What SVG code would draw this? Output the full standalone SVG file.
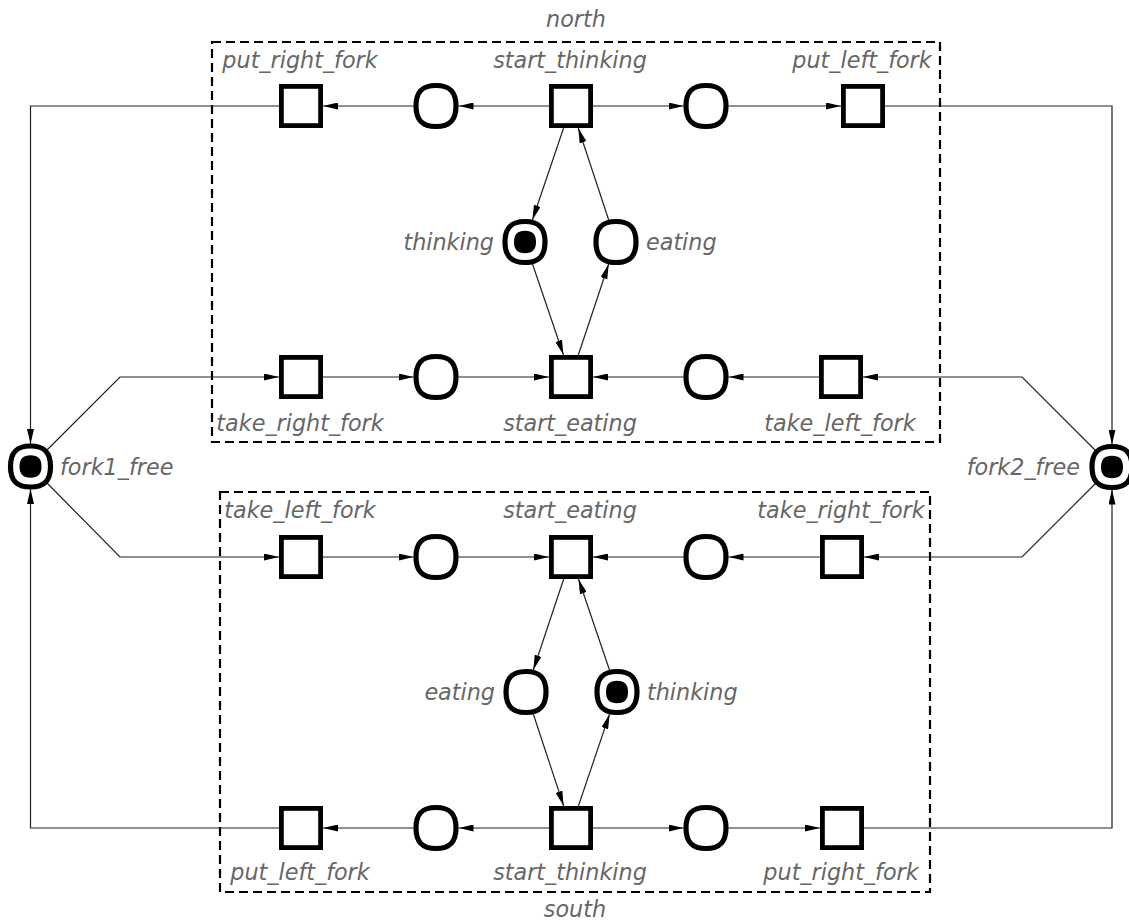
<svg xmlns="http://www.w3.org/2000/svg" width="1129" height="922" viewBox="0 0 1129 922">
  <style>
    .lbl { font-family: "DejaVu Sans", "Liberation Sans", sans-serif; font-style: italic; font-size: 22.3px; fill: #666666; }
    .mid { text-anchor: middle; }
    .end { text-anchor: end; }
    .trans { fill: #ffffff; stroke: #000000; stroke-width: 4.8; }
    .place { fill: #ffffff; stroke: #000000; stroke-width: 5.2; }
    .token { fill: #000000; }
    .arc { fill: none; stroke: #222222; stroke-width: 1.2; }
    .arc.to { marker-end: url(#head); }
    .box { fill: none; stroke: #000000; stroke-width: 2.2; stroke-dasharray: 9 5; }
  </style>
  <defs>
    <marker id="head" viewBox="0 0 15 7" refX="15" refY="3.5" markerWidth="15" markerHeight="7" markerUnits="userSpaceOnUse" orient="auto">
      <path d="M0,0 L15,3.5 L0,7 Z" fill="#000000"/>
    </marker>
    <rect id="t" x="-19.6" y="-19.6" width="39.2" height="39.2" class="trans"/>
    <!-- place outline: slightly squared circle -->
    <path id="p" class="place" d="M-20,0 C-20,-14 -14,-20.5 0,-20.5 C14,-20.5 20,-14 20,0 C20,14 14,20.5 0,20.5 C-14,20.5 -20,14 -20,0 Z"/>
    <path id="k" class="token" d="M-11,0 C-11,-7.5 -7.5,-11.2 0,-11.2 C7.5,-11.2 11,-7.5 11,0 C11,7.5 7.5,11.2 0,11.2 C-7.5,11.2 -11,7.5 -11,0 Z"/>
  </defs>

  <rect width="1129" height="922" fill="#ffffff"/>

  <!-- philosopher groups -->
  <g id="north">
    <rect class="box" x="212" y="42" width="728" height="400"/>
    <text class="lbl mid" x="576" y="27">north</text>
  </g>
  <g id="south">
    <rect class="box" x="220" y="492" width="710" height="400"/>
    <text class="lbl mid" x="575" y="917">south</text>
  </g>

  <!-- arcs -->
  <g id="connectors">
    <!-- north, upper row -->
    <line class="arc to" x1="549" y1="106" x2="458.5" y2="106"/>
    <line class="arc to" x1="413.5" y1="106" x2="323" y2="106"/>
    <line class="arc to" x1="593" y1="106" x2="683.5" y2="106"/>
    <line class="arc to" x1="728.5" y1="106" x2="841" y2="106"/>
    <polyline class="arc to" points="279,106 30.5,106 30.5,444"/>
    <polyline class="arc to" points="885,106 1112,106 1112,444.5"/>
    <!-- north, eating / thinking cycle -->
    <line class="arc to" x1="563.6" y1="128" x2="532.4" y2="220"/>
    <line class="arc to" x1="608.7" y1="220" x2="578.3" y2="128"/>
    <line class="arc to" x1="532.5" y1="264" x2="563.5" y2="355"/>
    <line class="arc to" x1="578.3" y1="355" x2="608.7" y2="264"/>
    <!-- north, lower row -->
    <polyline class="arc to" points="46.5,450.5 120,377 279,377"/>
    <line class="arc to" x1="323" y1="377" x2="413.5" y2="377"/>
    <line class="arc to" x1="458.5" y1="377" x2="549" y2="377"/>
    <polyline class="arc to" points="1096,451 1022,377 863,377"/>
    <line class="arc to" x1="819" y1="377" x2="728.5" y2="377"/>
    <line class="arc to" x1="683.5" y1="377" x2="593" y2="377"/>
    <!-- south, upper row -->
    <polyline class="arc to" points="46.5,482.5 120,557 279,557"/>
    <line class="arc to" x1="323" y1="557" x2="413.5" y2="557"/>
    <line class="arc to" x1="458.5" y1="557" x2="549" y2="557"/>
    <polyline class="arc to" points="1096,483 1022,557 864,557"/>
    <line class="arc to" x1="820" y1="557" x2="728.5" y2="557"/>
    <line class="arc to" x1="683.5" y1="557" x2="593" y2="557"/>
    <!-- south, eating / thinking cycle -->
    <line class="arc to" x1="563.7" y1="579" x2="533.3" y2="670"/>
    <line class="arc to" x1="609.5" y1="670" x2="578.5" y2="579"/>
    <line class="arc to" x1="533.3" y1="714" x2="563.7" y2="806"/>
    <line class="arc to" x1="578.4" y1="806" x2="609.6" y2="714"/>
    <!-- south, lower row -->
    <line class="arc to" x1="549" y1="828" x2="458.5" y2="828"/>
    <line class="arc to" x1="413.5" y1="828" x2="323" y2="828"/>
    <line class="arc to" x1="593" y1="828" x2="683.5" y2="828"/>
    <line class="arc to" x1="728.5" y1="828" x2="820" y2="828"/>
    <polyline class="arc to" points="279,828 30.5,828 30.5,489"/>
    <polyline class="arc to" points="864,828 1112,828 1112,489.5"/>
  </g>

  <!-- shared fork places -->
  <g id="fork1_free">
    <use href="#p" x="30.5" y="466.5"/>
    <use href="#k" x="30.5" y="466.5"/>
    <text class="lbl" x="60" y="475">fork1_free</text>
  </g>
  <g id="fork2_free">
    <use href="#p" x="1112" y="467"/>
    <use href="#k" x="1112" y="467"/>
    <text class="lbl end" x="1080" y="475">fork2_free</text>
  </g>

  <!-- north nodes -->
  <g id="n_put_right_fork">
    <use href="#t" x="301" y="106"/>
    <text class="lbl mid" x="300" y="68">put_right_fork</text>
  </g>
  <g id="n_p_right"><use href="#p" x="436" y="106"/></g>
  <g id="n_start_thinking">
    <use href="#t" x="571" y="106"/>
    <text class="lbl mid" x="570" y="68">start_thinking</text>
  </g>
  <g id="n_p_left"><use href="#p" x="706" y="106"/></g>
  <g id="n_put_left_fork">
    <use href="#t" x="863" y="106"/>
    <text class="lbl mid" x="862" y="68">put_left_fork</text>
  </g>
  <g id="n_thinking">
    <use href="#p" x="525" y="242"/>
    <use href="#k" x="525" y="242"/>
    <text class="lbl end" x="494" y="250">thinking</text>
  </g>
  <g id="n_eating">
    <use href="#p" x="616" y="242"/>
    <text class="lbl" x="646" y="250">eating</text>
  </g>
  <g id="n_take_right_fork">
    <use href="#t" x="301" y="377"/>
    <text class="lbl mid" x="300" y="431">take_right_fork</text>
  </g>
  <g id="n_p_has_right"><use href="#p" x="436" y="377"/></g>
  <g id="n_start_eating">
    <use href="#t" x="571" y="377"/>
    <text class="lbl mid" x="570" y="431">start_eating</text>
  </g>
  <g id="n_p_has_left"><use href="#p" x="706" y="377"/></g>
  <g id="n_take_left_fork">
    <use href="#t" x="841" y="377"/>
    <text class="lbl mid" x="840" y="431">take_left_fork</text>
  </g>

  <!-- south nodes -->
  <g id="s_take_left_fork">
    <use href="#t" x="301" y="557"/>
    <text class="lbl mid" x="300" y="518">take_left_fork</text>
  </g>
  <g id="s_p_has_left"><use href="#p" x="436" y="557"/></g>
  <g id="s_start_eating">
    <use href="#t" x="571" y="557"/>
    <text class="lbl mid" x="570" y="518">start_eating</text>
  </g>
  <g id="s_p_has_right"><use href="#p" x="706" y="557"/></g>
  <g id="s_take_right_fork">
    <use href="#t" x="842" y="557"/>
    <text class="lbl mid" x="841" y="518">take_right_fork</text>
  </g>
  <g id="s_eating">
    <use href="#p" x="526" y="692"/>
    <text class="lbl end" x="495" y="700">eating</text>
  </g>
  <g id="s_thinking">
    <use href="#p" x="617" y="692"/>
    <use href="#k" x="617" y="692"/>
    <text class="lbl" x="647" y="700">thinking</text>
  </g>
  <g id="s_put_left_fork">
    <use href="#t" x="301" y="828"/>
    <text class="lbl mid" x="300" y="880">put_left_fork</text>
  </g>
  <g id="s_p_left"><use href="#p" x="436" y="828"/></g>
  <g id="s_start_thinking">
    <use href="#t" x="571" y="828"/>
    <text class="lbl mid" x="570" y="880">start_thinking</text>
  </g>
  <g id="s_p_right"><use href="#p" x="706" y="828"/></g>
  <g id="s_put_right_fork">
    <use href="#t" x="842" y="828"/>
    <text class="lbl mid" x="841" y="880">put_right_fork</text>
  </g>
</svg>
